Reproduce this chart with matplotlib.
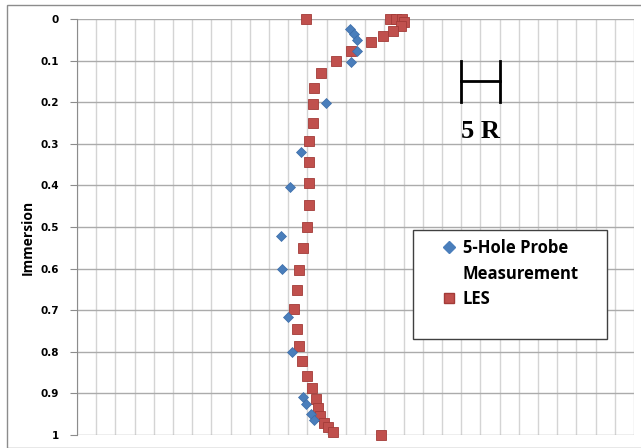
import numpy as np
import matplotlib.pyplot as plt
from matplotlib.lines import Line2D
from matplotlib.patches import Rectangle

# 5-hole probe measurement (x in grid units, immersion)
probe_x = [14.19, 14.4, 14.56, 14.6, 14.25, 12.95, 11.67, 11.09, 10.63,
           10.68, 11.0, 11.18, 11.75, 11.91, 12.17, 12.34]
probe_y = [0.025, 0.036, 0.05, 0.076, 0.104, 0.201, 0.319, 0.403, 0.521,
           0.600, 0.716, 0.801, 0.908, 0.926, 0.950, 0.964]

# LES
les_x = [11.93, 16.3, 16.63, 16.93, 17.0, 16.85, 16.45, 15.95, 15.31, 14.25,
         13.49, 12.69, 12.34, 12.28, 12.31, 12.07, 12.1, 12.07, 12.1, 11.96,
         11.79, 11.56, 11.44, 11.3, 11.44, 11.56, 11.7, 11.96, 12.24, 12.45,
         12.57, 12.66, 12.86, 13.05, 13.31, 15.82]
les_y = [0.0, 0.0, 0.0, 0.0, 0.007, 0.017, 0.028, 0.041, 0.055, 0.076,
         0.101, 0.131, 0.165, 0.204, 0.249, 0.294, 0.344, 0.395, 0.447, 0.501,
         0.551, 0.603, 0.651, 0.696, 0.744, 0.785, 0.822, 0.858, 0.888, 0.913,
         0.934, 0.954, 0.970, 0.980, 0.992, 1.0]

y_ticks = [0, 0.1, 0.2, 0.3, 0.4, 0.5, 0.6, 0.7, 0.8, 0.9, 1]
y_tick_labels = ["0", "0.1", "0.2", "0.3", "0.4", "0.5", "0.6", "0.7", "0.8", "0.9", "1"]

blue = "#4A7EBB"
red = "#C0504D"

fig = plt.figure(figsize=(6.41, 4.48), dpi=100)
W, H = 641, 448
ax = fig.add_axes([77 / W, 1 - 435 / H, (634 - 77) / W, (435 - 19) / H])

# outer chart border
fig.patches.append(Rectangle((7 / W, 0), 1.0, 1 - 5 / H, transform=fig.transFigure,
                             fill=False, edgecolor="#8C8C8C", linewidth=1.0))

ax.set_xlim(0, 29)
ax.set_ylim(1, 0)
ax.set_xticks(np.arange(0, 30))
ax.set_yticks(y_ticks)
ax.set_yticklabels(y_tick_labels, fontsize=7.5, fontweight="bold", family="DejaVu Sans")
ax.tick_params(axis="x", length=0, labelbottom=False)
ax.tick_params(axis="y", length=5, color="#8C8C8C", pad=8)

ax.grid(axis="x", color="#D4D4D4", linewidth=1.0)
ax.grid(axis="y", color="#ABABAB", linewidth=1.0)
ax.set_axisbelow(True)
for side in ["top", "right", "bottom"]:
    ax.spines[side].set_visible(False)
ax.spines["left"].set_color("#8C8C8C")

ax.set_ylabel("Immersion", fontsize=10, fontweight="bold", family="Open Sans")
ax.yaxis.set_label_coords((27.5 - 77) / 557, 1 - (237 - 19) / 416, transform=ax.transAxes)
ax.yaxis.label.set_va("center")

ax.plot(les_x, les_y, linestyle="none", marker="s", markersize=7.5,
        markerfacecolor=red, markeredgecolor="#A33B38", markeredgewidth=0.6, clip_on=False)
ax.plot(probe_x, probe_y, linestyle="none", marker="D", markersize=5.5,
        markerfacecolor=blue, markeredgecolor="#3B6CA8", markeredgewidth=0.5, clip_on=False)

# scale bar
ax.plot([20, 20], [0.1, 0.2], color="black", linewidth=2)
ax.plot([22, 22], [0.1, 0.2], color="black", linewidth=2)
ax.plot([20, 22], [0.15, 0.15], color="black", linewidth=2)
ax.text(21, 0.27, "5 R", ha="center", va="center", fontsize=19,
        fontweight="bold", family="Liberation Serif")

# legend box
fig.patches.append(Rectangle((413 / W, 1 - 339 / H), (607 - 413) / W, (339 - 230) / H,
                             transform=fig.transFigure, facecolor="white",
                             edgecolor="#404040", linewidth=1.0, zorder=5))
handles = [Line2D([], [], linestyle="none", marker="D", markersize=6,
                  markerfacecolor=blue, markeredgecolor=blue),
           Line2D([], [], linestyle="none"),
           Line2D([], [], linestyle="none", marker="s", markersize=7,
                  markerfacecolor=red, markeredgecolor="#A33B38")]
leg = fig.legend(handles, ["5-Hole Probe", "Measurement", "LES"], loc="upper left",
                 bbox_to_anchor=(427 / W, 1 - 224 / H), frameon=False,
                 handlelength=0.8, handletextpad=0.45, labelspacing=0.45,
                 prop={"family": "Open Sans", "weight": "bold", "size": 12})
leg.set_zorder(6)

fig.savefig("out.png", dpi=100)
